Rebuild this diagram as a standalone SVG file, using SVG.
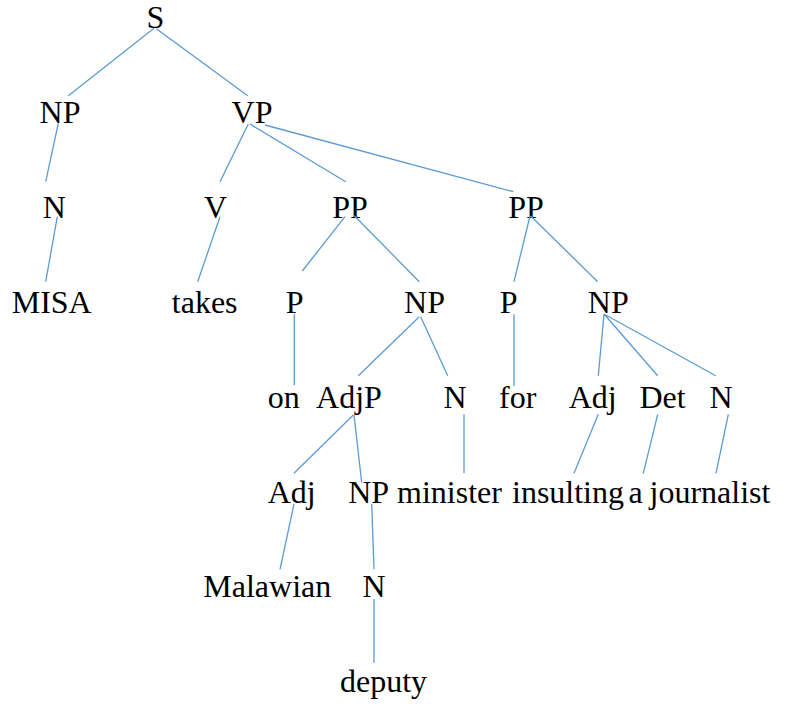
<svg xmlns="http://www.w3.org/2000/svg" width="788" height="704" viewBox="0 0 788 704">
  <style>
    .lbl { font-size: 32px; fill: #000; text-anchor: middle; }
    .edge { stroke: #5b9bd5; stroke-width: 1.3; fill: none; }
  </style>
  <rect width="788" height="704" fill="#fff"/>
  <g class="lbl">
    <g id="n-S"><text x="155.5" y="28" font-family="'Liberation Serif', serif">S</text></g>
    <g id="n-NP1"><text x="60" y="123" font-family="'Liberation Serif', serif">NP</text></g>
    <g id="n-VP"><text x="252" y="123" font-family="'Liberation Serif', serif">VP</text></g>
    <g id="n-N1"><text x="54.3" y="218" font-family="'Liberation Serif', serif">N</text></g>
    <g id="n-V"><text x="215.5" y="218" font-family="'Liberation Serif', serif">V</text></g>
    <g id="n-PP1"><text x="350" y="218" font-family="'Liberation Serif', serif">PP</text></g>
    <g id="n-PP2"><text x="526" y="218" font-family="'Liberation Serif', serif">PP</text></g>
    <g id="n-MISA"><text x="51.7" y="313" font-family="'Liberation Serif', serif">MISA</text></g>
    <g id="n-takes"><text x="204.7" y="313" font-family="'Liberation Serif', serif">takes</text></g>
    <g id="n-P1"><text x="294.7" y="313" font-family="'Liberation Serif', serif">P</text></g>
    <g id="n-NP2"><text x="424.5" y="313" font-family="'Liberation Serif', serif">NP</text></g>
    <g id="n-P2"><text x="508.7" y="313" font-family="'Liberation Serif', serif">P</text></g>
    <g id="n-NP3"><text x="608.3" y="313" font-family="'Liberation Serif', serif">NP</text></g>
    <g id="n-on"><text x="283.7" y="408" font-family="'Liberation Serif', serif">on</text></g>
    <g id="n-AdjP"><text x="349" y="408" font-family="'Liberation Serif', serif">AdjP</text></g>
    <g id="n-N2"><text x="455" y="408" font-family="'Liberation Serif', serif">N</text></g>
    <g id="n-for"><text x="517.7" y="408" font-family="'Liberation Serif', serif">for</text></g>
    <g id="n-Adj1"><text x="592.7" y="408" font-family="'Liberation Serif', serif">Adj</text></g>
    <g id="n-Det"><text x="662.5" y="408" font-family="'Liberation Serif', serif">Det</text></g>
    <g id="n-N3"><text x="721" y="408" font-family="'Liberation Serif', serif">N</text></g>
    <g id="n-Adj2"><text x="291.7" y="502.5" font-family="'Liberation Serif', serif">Adj</text></g>
    <g id="n-NP4"><text x="368.7" y="502.5" font-family="'Liberation Serif', serif">NP</text></g>
    <g id="n-minister"><text x="449.5" y="502.5" font-family="'Liberation Serif', serif">minister</text></g>
    <g id="n-insulting"><text x="568" y="502.5" font-family="'Liberation Serif', serif">insulting</text></g>
    <g id="n-a"><text x="635.5" y="502.5" font-family="'Liberation Serif', serif">a</text></g>
    <g id="n-journalist"><text x="710" y="502.5" font-family="'Liberation Serif', serif">journalist</text></g>
    <g id="n-Malawian"><text x="267.3" y="597" font-family="'Liberation Serif', serif">Malawian</text></g>
    <g id="n-N4"><text x="374" y="597" font-family="'Liberation Serif', serif">N</text></g>
    <g id="n-deputy"><text x="383.5" y="692" font-family="'Liberation Serif', serif">deputy</text></g>
  </g>
  <!-- parent-to-child branches -->
  <g id="edges">
    <path class="edge" d="M154 28.3L68.3 95.7M156.7 29L247.7 95.7M58.3 123.3L45.7 181.7M248.3 124L220 181.7M250 124L345.7 181.7M265 125L513.3 191.7M57.3 216.7L45.7 281.7M220 216.7L197.7 281.7M345 216.7L302.3 271M354.3 215.7L419.3 281.7M530 216L514 281.7M530.7 216L597.7 281.7M294.3 314.3V385M419.3 316.7L358.3 375.7M420.7 316.7L447.7 375.7M514 314.3V386M604 314L598.3 375.7M604 314L657.7 375.7M604 314L715.7 375.7M353.3 415L294 473.3M354 415L361.7 482.5M464 414.3V473.3M598.3 414.3L574 473.3M657.7 414.3L643.3 473.3M728.3 414.3L716 473.3M294 504L280 569.3M371.7 504L374 569.3M374 599V662.7"/>
  </g>
</svg>
